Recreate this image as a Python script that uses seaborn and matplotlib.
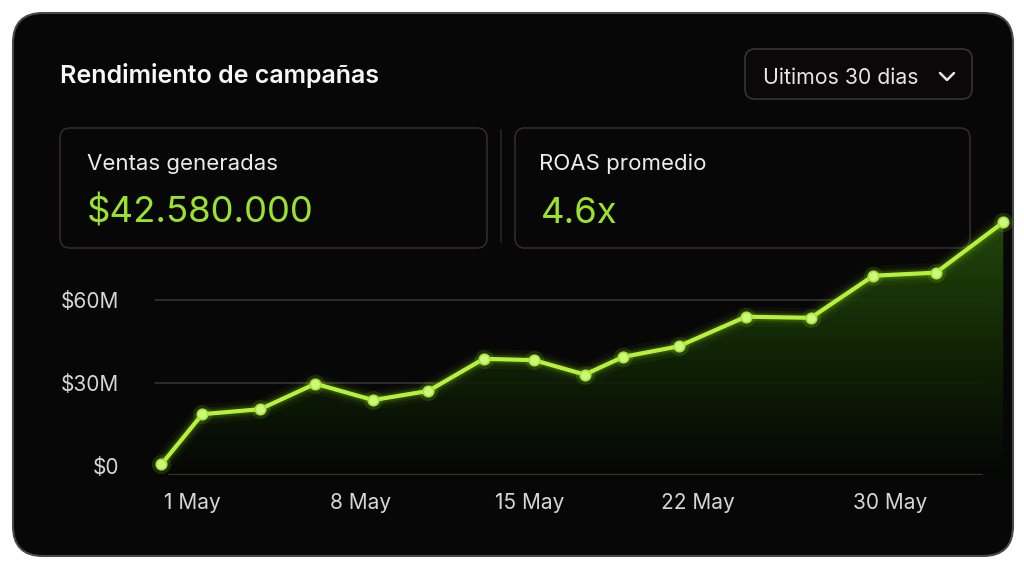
import numpy as np
import matplotlib
matplotlib.use("Agg")
import matplotlib.pyplot as plt
import seaborn as sns
from matplotlib.patches import FancyBboxPatch, Polygon
from matplotlib.colors import LinearSegmentedColormap

# ---------------- data ----------------
title = "Rendimiento de campañas"
period_label = "Uitimos 30 dias"
kpi_labels = ["Ventas generadas", "ROAS promedio"]
kpi_values = ["$42.580.000", "4.6x"]

days = [-0.3, 1.4, 3.8, 6.1, 8.5, 10.8, 13.1, 15.2, 17.3, 18.9, 21.2, 24.0, 26.7, 29.3, 31.9, 34.7]
sales_m = [0.6, 18.7, 20.5, 29.7, 23.8, 27.1, 38.7, 38.2, 33.0, 39.4, 43.2, 53.9, 53.5, 68.7, 69.8, 88.0]

x_ticks = [1, 8, 15, 22, 30]
x_tick_labels = ["1 May", "8 May", "15 May", "22 May", "30 May"]
y_ticks = [0, 30, 60]
y_tick_labels = ["$0", "$30M", "$60M"]

# ---------------- style ----------------
sns.set_theme(style="dark")
plt.rcParams["font.family"] = ["Inter", "DejaVu Sans"]

W, H = 1024, 571
fig = plt.figure(figsize=(W / 100, H / 100), dpi=100, facecolor="white")

bg = fig.add_axes([0, 0, 1, 1])
bg.set_xlim(0, W)
bg.set_ylim(H, 0)
bg.axis("off")

# card
bg.add_patch(FancyBboxPatch((13, 13), 1000, 543, boxstyle="round,pad=0,rounding_size=30",
                            fc="#070707", ec="#484848", lw=1.5, zorder=0))
# dropdown
bg.add_patch(FancyBboxPatch((745, 49), 227, 50, boxstyle="round,pad=0,rounding_size=10",
                            fc="#0a0808", ec="#3a3232", lw=1.2, zorder=1))
bg.text(763, 83.5, period_label, color="#e6e6e6", fontsize=15.3, va="baseline", zorder=2)
bg.plot([940, 947, 954], [73, 80, 73], color="#e6e6e6", lw=1.8,
        solid_capstyle="round", solid_joinstyle="round", zorder=2)

# title
bg.text(60, 82.7, title, color="#f7f7f7", fontsize=18, fontweight="semibold", va="baseline", zorder=2)

# KPI boxes
box_specs = [(60, 427, 87, 87), (515, 455, 539, 541)]
for (bx, bw, lx, vx), lab, val in zip(box_specs, kpi_labels, kpi_values):
    bg.add_patch(FancyBboxPatch((bx, 128), bw, 120, boxstyle="round,pad=0,rounding_size=10",
                                fc="#080707", ec="#322a2a", lw=1.2, zorder=1))
    bg.text(lx, 170.5, lab, color="#ececec", fontsize=16, va="baseline", zorder=2)
    bg.text(vx, 222.8, val, color="#9be22d", fontsize=26.3, va="baseline", zorder=2)
bg.plot([501, 501], [130, 242], color="#2a2424", lw=1.2, zorder=1)

# ---------------- chart ----------------
ax = fig.add_axes([150 / W, 1 - 474 / H, 860 / W, (474 - 210) / H])
ax.set_facecolor("none")
xlim = (-0.775, 34.98)
ylim = (-2.89, 92.42)

# gradient area fill
grad = np.linspace(0, 1, 256).reshape(-1, 1)
cmap = LinearSegmentedColormap.from_list("g", ["#050705", "#0e1e05", "#1a3808", "#27520c"])
im = ax.imshow(grad, extent=[xlim[0], xlim[1], ylim[0], ylim[1]], origin="lower",
               aspect="auto", cmap=cmap, alpha=0.88, zorder=1)
verts = [(days[0], ylim[0])] + list(zip(days, sales_m)) + [(days[-1], ylim[0])]
clip = Polygon(verts, closed=True, fc="none", ec="none")
ax.add_patch(clip)
im.set_clip_path(clip)

# grid lines
for v in y_ticks[1:]:
    ax.axhline(v, xmin=0.006, xmax=0.967, color="#3a3131", lw=1.2, zorder=0.5)
ax.axhline(ylim[0], xmin=0.022, xmax=0.967, color="#3a3131", lw=1.5, zorder=0.5, clip_on=False)

# glow
for lw, a in [(14, 0.04), (9, 0.07), (6, 0.13)]:
    ax.plot(days, sales_m, color="#a6f024", lw=lw, alpha=a, solid_capstyle="round",
            solid_joinstyle="round", zorder=3, clip_on=False)
ax.scatter(days, sales_m, s=190, color="#a6f024", alpha=0.12, lw=0, zorder=4, clip_on=False)

sns.lineplot(x=days, y=sales_m, ax=ax, color="#b6f23a", lw=3, marker="o", markersize=7.5,
             markerfacecolor="#cff77e", markeredgecolor="#a3e635", markeredgewidth=1.2,
             zorder=5, clip_on=False)

ax.set_xlim(*xlim)
ax.set_ylim(*ylim)
ax.set_xticks(x_ticks, x_tick_labels)
ax.set_yticks(y_ticks, y_tick_labels)
ax.tick_params(axis="both", colors="#d6d6d6", labelsize=15, length=0)
ax.tick_params(axis="y", pad=22)
ax.tick_params(axis="x", pad=14)
ax.grid(False)
ax.set_xlabel("")
ax.set_ylabel("")
for s in ax.spines.values():
    s.set_visible(False)

fig.savefig("out.png", dpi=100, facecolor="white")
